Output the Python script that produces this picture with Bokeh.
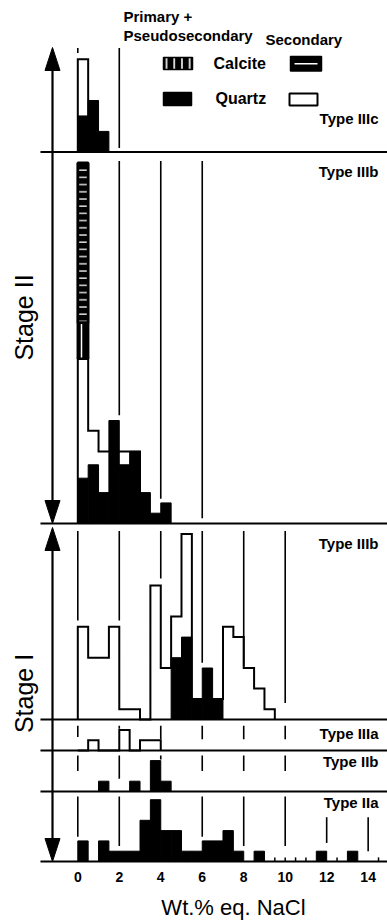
import math
from bokeh.plotting import figure
from bokeh.models import Range1d
from bokeh.core.properties import value
from bokeh.embed import file_html
from bokeh.resources import INLINE

# ---------------- data (counts per 0.5 wt.% class, classes start at 0) ----------------
bin_width = 0.5
x_ticks = [0, 2, 4, 6, 8, 10, 12, 14]
x_title = "Wt.% eq. NaCl"

iiic_primary_quartz = [3.5, 5, 2]
iiic_secondary_quartz = [9]

s2_iiib_primary_quartz = [4.4, 5.7, 3, 10, 5.7, 7, 3, 1, 2]
s2_iiib_secondary_quartz = [16, 9, 7, 7, 7, 7]
s2_iiib_primary_calcite = [3.5]
s2_iiib_secondary_calcite = [15.5]

s1_iiib_primary_quartz = [0, 0, 0, 0, 0, 0, 0, 0, 0, 6, 8, 2, 5, 2]
s1_iiib_secondary_quartz = [9, 6, 6, 9, 1, 1, 0, 13, 5, 10, 18, 2, 2, 2, 9, 8, 5, 3, 1]

iiia_secondary_quartz = [0, 1, 0, 0, 2, 0, 1, 1]
iib_primary_quartz = [0, 0, 1, 0, 0, 1, 0, 3, 1]
iia_primary_quartz = [2, 0, 2, 1, 1, 1, 4, 6, 3, 3, 1, 1, 2, 2, 3, 1, 0, 1,
                      0, 0, 0, 0, 0, 1, 0, 0, 1]
iia_minor_ticks = [9.5, 10.0, 10.5, 11.0, 12.5, 14.5]

panel_labels = ["Type IIIc", "Type IIIb", "Type IIIb", "Type IIIa", "Type IIb", "Type IIa"]
stage_labels = ["Stage II", "Stage I"]
legend_headers = ["Primary +", "Pseudosecondary", "Secondary"]
legend_rows = ["Calcite", "Quartz"]

# reference lines at even values (x, top, bottom in counts of each panel)
iiic_grid_x, iiic_grid_top, iiic_grid_bot = [0, 2], [10.1, 10.1], [9.6, 0.4]
s2_grid_x, s2_grid_top, s2_grid_bot = [2, 4, 6], [35.2, 35.2, 35.2], [10.5, 2.4, 0.5]
s1_grid_x = [0, 2, 4, 6, 8, 10]
s1_grid_top = [18.3] * 6
s1_grid_bot = [9.6, 9.6, 13.7, 5.5, 5.2, 1.6]
iiia_grid_x = [0, 2, 4, 6, 8, 10]
iiia_grid_top = [2.4] * 6
iiia_grid_bot = [1.3, 2.1, 1.1, 1.1, 1.1, 1.1]
iib_grid_x = [0, 2, 4, 6, 8, 10]
iib_grid_top = [3.5] * 6
iib_grid_bot = [2.0, 1.25, 3.1, 2.0, 2.0, 2.0]
iia_grid_x = [0, 2, 6, 8, 10, 12, 14]
iia_grid_top = [6.3, 6.3, 6.3, 6.3, 6.3, 4.3, 4.3]
iia_grid_bot = [2.4, 1.5, 2.4, 1.5, 1.5, 1.8, 1.0]

# ---------------- layout ----------------
W, H = 387, 923
X0 = 77.3          # pixel of x = 0
PXU = 20.74        # pixels per wt.%
U = 10.3           # pixels per count
baselines = [151.5, 523, 719, 750, 791, 861]
FONT = value("Liberation Sans")

p = figure(width=W, height=H, output_backend="svg", toolbar_location=None,
           x_range=Range1d(-X0 / PXU, (W - X0) / PXU), y_range=Range1d(H, 0),
           x_axis_type=None, y_axis_type=None, min_border=0,
           outline_line_color=None, background_fill_color="white",
           border_fill_color="white")
p.extra_x_ranges = {"px": Range1d(0, W)}
p.extra_y_ranges = {f"p{i}": Range1d(start=-(H - b) / U, end=b / U)
                    for i, b in enumerate(baselines)}


def grid(xs, tops, bots, rn):
    p.segment(x0=xs, x1=xs, y0=tops, y1=bots, y_range_name=rn,
              line_color="black", line_width=1.6)


def outline(counts, rn):
    xs = [0.0] + [i * bin_width for i in range(len(counts) + 1)]
    ys = [0] + list(counts) + [0]
    p.step(x=xs, y=ys, mode="after", y_range_name=rn, line_color="black",
           line_width=2, line_join="miter")


def solid(counts, rn):
    xc = [(i + 0.5) * bin_width for i, c in enumerate(counts) if c > 0]
    tops = [c for c in counts if c > 0]
    p.vbar(x=xc, width=bin_width, top=tops, bottom=0, y_range_name=rn,
           fill_color="black", line_color="black", line_width=1)


# gridlines
grid(iiic_grid_x, iiic_grid_top, iiic_grid_bot, "p0")
grid(s2_grid_x, s2_grid_top, s2_grid_bot, "p1")
grid(s1_grid_x, s1_grid_top, s1_grid_bot, "p2")
grid(iiia_grid_x, iiia_grid_top, iiia_grid_bot, "p3")
grid(iib_grid_x, iib_grid_top, iib_grid_bot, "p4")
grid(iia_grid_x, iia_grid_top, iia_grid_bot, "p5")
p.segment(x0=iia_minor_ticks, x1=iia_minor_ticks, y0=0, y1=0.4, y_range_name="p5",
          line_color="black", line_width=1.5)

# histograms
outline(iiic_secondary_quartz, "p0")
solid(iiic_primary_quartz, "p0")
outline(s2_iiib_secondary_quartz, "p1")
solid(s2_iiib_primary_quartz, "p1")
outline(s1_iiib_secondary_quartz, "p2")
solid(s1_iiib_primary_quartz, "p2")
outline(iiia_secondary_quartz, "p3")
solid(iib_primary_quartz, "p4")
solid(iia_primary_quartz, "p5")

# calcite stacked on the quartz of the first class (stage II, type IIIb)
cal_b1 = s2_iiib_secondary_quartz[0]
cal_t1 = cal_b1 + s2_iiib_primary_calcite[0]
cal_t2 = cal_t1 + s2_iiib_secondary_calcite[0]
p.vbar(x=[0.5 * bin_width], width=bin_width, bottom=[cal_b1], top=[cal_t1], y_range_name="p1",
       fill_color="black", line_color="black", line_width=2.5,
       hatch_pattern="vertical_line", hatch_color="white", hatch_scale=7, hatch_weight=1.5)
p.vbar(x=[0.5 * bin_width], width=bin_width, bottom=[cal_t1], top=[cal_t2], y_range_name="p1",
       fill_color="black", line_color="black", line_width=2.8,
       hatch_pattern="horizontal_line", hatch_color="white", hatch_scale=7.2, hatch_weight=1.3)

# panel separators / baselines
for i in range(len(baselines)):
    p.segment(x0=[-1.8], x1=[15.2], y0=[0], y1=[0], y_range_name=f"p{i}",
              line_color="black", line_width=2)

# stage arrows (pixel space)
arrow_x = 52
arrow_spans = [(47, 523), (527, 861)]
HW, HL = 7.5, 23
for top, bot in arrow_spans:
    p.segment(x0=[arrow_x], x1=[arrow_x], y0=[top + 10], y1=[bot - 10], x_range_name="px",
              line_color="black", line_width=2.2)
    p.patches(xs=[[arrow_x, arrow_x - HW, arrow_x + HW], [arrow_x, arrow_x - HW, arrow_x + HW]],
              ys=[[top, top + HL, top + HL], [bot, bot - HL, bot - HL]], x_range_name="px",
              fill_color="black", line_color="black", line_width=1)

# texts
p.text(x=[23, 23], y=[317, 693], text=stage_labels, angle=math.pi / 2, x_range_name="px",
       text_align="center", text_baseline="middle", text_font=FONT,
       text_font_style="normal", text_font_size="25px", text_color="black")
p.text(x=[378] * 6, y=[118, 171, 543, 733, 761, 802], text=panel_labels, x_range_name="px",
       text_align="right", text_baseline="middle", text_font=FONT,
       text_font_style="bold", text_font_size="15px", text_color="black")
p.text(x=x_ticks, y=[876] * len(x_ticks), text=[str(t) for t in x_ticks],
       text_align="center", text_baseline="middle", text_font=FONT,
       text_font_style="bold", text_font_size="14px", text_color="black")
p.text(x=[233], y=[907], text=[x_title], x_range_name="px",
       text_align="center", text_baseline="middle", text_font=FONT,
       text_font_style="normal", text_font_size="22px", text_color="black")

# legend
p.text(x=[123, 123, 265], y=[16, 34.5, 38.5], text=legend_headers, x_range_name="px",
       text_align="left", text_baseline="middle", text_font=FONT,
       text_font_style="bold", text_font_size="15px", text_color="black")
p.text(x=[213, 215], y=[62.5, 97.5], text=legend_rows, x_range_name="px",
       text_align="left", text_baseline="middle", text_font=FONT,
       text_font_style="bold", text_font_size="16px", text_color="black")
p.quad(left=[163], right=[192], top=[57], bottom=[69], x_range_name="px",
       fill_color="black", line_color="black", line_width=1.5,
       hatch_pattern="vertical_line", hatch_color="white", hatch_scale=7.7, hatch_weight=1.6)
p.quad(left=[163], right=[191], top=[92], bottom=[105], x_range_name="px",
       fill_color="black", line_color="black", line_width=1.5)
p.quad(left=[290], right=[321], top=[56], bottom=[70.5], x_range_name="px",
       fill_color="black", line_color="black", line_width=1.5)
p.segment(x0=[294], x1=[317], y0=[63.3], y1=[63.3], x_range_name="px",
          line_color="white", line_width=1.6)
p.quad(left=[289], right=[317], top=[93], bottom=[105], x_range_name="px",
       fill_color="white", line_color="black", line_width=2)

open("out.html", "w").write(file_html(p, INLINE))
